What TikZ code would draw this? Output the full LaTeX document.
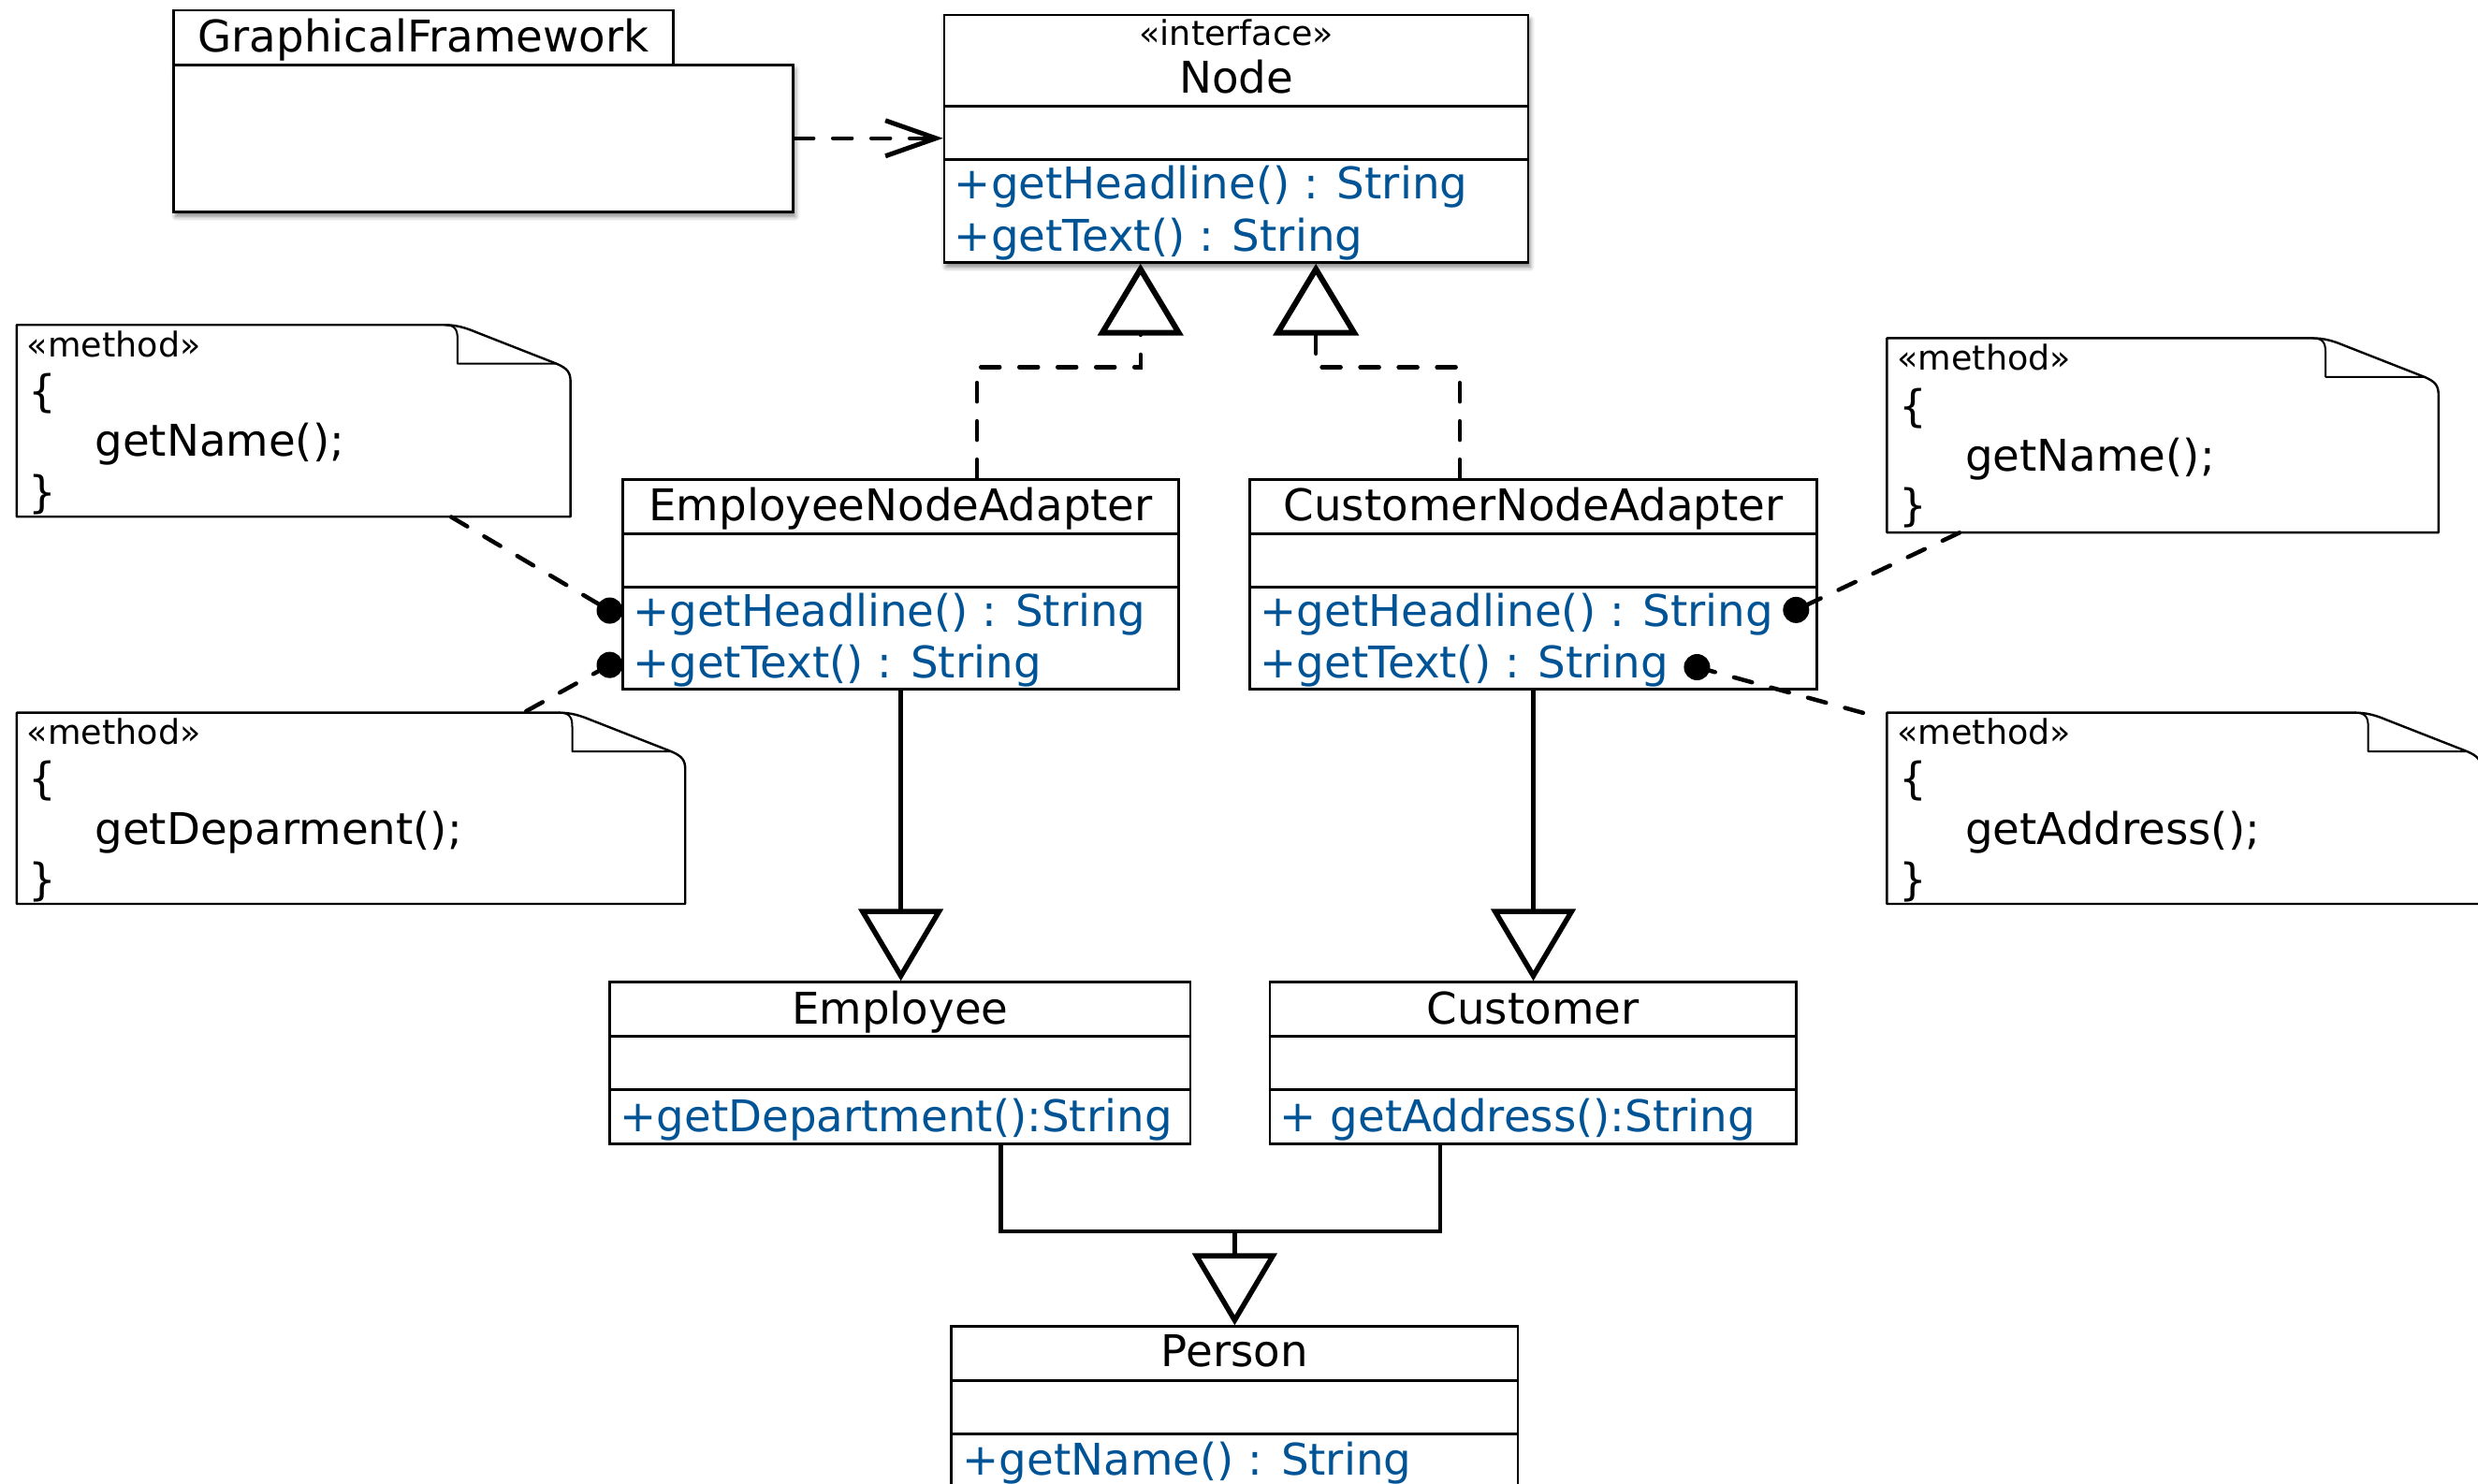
\documentclass[tikz,border=0pt]{standalone}
\usepackage{fontspec}
\setmainfont{DejaVu Sans}
\usetikzlibrary{arrows.meta,fit,calc,shadows.blur}
\definecolor{opblue}{RGB}{0,84,150}

% A UML class: #1 name, #2 left, #3 top, #4 right, #5 first separator,
% #6 second separator, #7 bottom, #8 extra options for the outer frame
\newcommand\umlclass[8]{%
  \node[box,#8,fit={(#2,#3) (#4,#7)}] (#1) {};
  \node[box,fit={(#2,#3) (#4,#5)}] (#1-name) {};
  \node[box,fit={(#2,#5) (#4,#6)}] (#1-attr) {};
  \node[box,fit={(#2,#6) (#4,#7)}] (#1-ops) {};
}

% A note with a folded corner: #1 name, #2 left, #3 top, #4 right, #5 bottom
\newcommand\methodnote[5]{%
  \node[fit={(#2,#3) (#4,#5)}, inner sep=0pt] (#1) {};
  \draw[noteline] (#2,#3) -- ({#4-80},#3)
    .. controls ({#4-72},#3) and ({#4-66},{#3+2}) .. ({#4-60},{#3+4.5})
    -- ({#4-9},{#3+24.5})
    .. controls ({#4-2},{#3+27.5}) and (#4,{#3+30}) .. (#4,{#3+36})
    -- (#4,#5) -- (#2,#5) -- cycle;
  \draw[foldline] ({#4-80},#3)
    .. controls ({#4-73},#3) and ({#4-71.5},{#3+3}) .. ({#4-71.5},{#3+9})
    -- ({#4-71.5},{#3+24.5}) -- ({#4-9},{#3+24.5});
}

\begin{document}
\begin{tikzpicture}[x=1.6888pt,y=-1.6888pt,
  box/.style={draw, line width=2.8pt, inner sep=0pt, fill=white},
  shadowed/.style={blur shadow={shadow xshift=2pt, shadow yshift=-5pt,
      shadow blur radius=5pt, shadow opacity=50}},
  label/.style={font=\fontsize{46.7}{56}\selectfont, inner sep=0pt,
      text height=39pt, text depth=7.8pt},
  stereo/.style={font=\fontsize{36.5}{44}\selectfont, inner sep=0pt,
      text height=31pt, text depth=6.6pt},
  op/.style={label, text=opblue, anchor=west},
  notetext/.style={label, anchor=west},
  notestereo/.style={stereo, anchor=west},
  noteline/.style={line width=2.4pt, line join=round, fill=white},
  foldline/.style={line width=2pt, line join=round},
  dep/.style={line width=4.5pt, line cap=round, dash pattern=on 20pt off 21pt},
  solidline/.style={line width=4.5pt},
  realize/.style={dep, -{Triangle[open, length=77pt, width=91pt, line width=6pt]}},
  gen/.style={solidline, -{Triangle[open, length=77pt, width=90pt, line width=5.5pt]}},
  dot/.style={circle, fill=black, minimum size=28pt, inner sep=0pt},
]
\useasboundingbox (0,0) rectangle (1568,939);
\clip (0,0) rectangle (1568,939);

% ---- GraphicalFramework (package-like box with a tab)
\node[box, shadowed, fit={(110,41) (502,134)}] (gf) {};
\node[box, fit={(110,6.5) (426,41)}] (gf-tab) {};
\node[label] (gf-title) at (268,23.7) {GraphicalFramework};

% ---- Node interface
\umlclass{node}{597.5}{9.5}{967}{67}{101}{166}{shadowed}
\node[stereo] (node-stereo) at (782.3,21.7) {«interface»};
\node[label] (node-title) at (782.3,49.5) {Node};
\node[op] (node-op1) at (603.8,116.5) {+getHeadline() : String};
\node[op] (node-op2) at (603.8,149.5) {+getText() : String};

% ---- Adapters
\umlclass{ena}{394}{303.5}{746}{338}{371.7}{436.2}{}
\node[label] (ena-title) at (570,320) {EmployeeNodeAdapter};
\node[op] (ena-op1) at (400.3,387) {+getHeadline() : String};
\node[op] (ena-op2) at (400.3,420) {+getText() : String};

\umlclass{cna}{791}{303.5}{1149.5}{338}{371.7}{436.2}{}
\node[label] (cna-title) at (970.3,320) {CustomerNodeAdapter};
\node[op] (cna-op1) at (797.3,387) {+getHeadline() : String};
\node[op] (cna-op2) at (797.3,420) {+getText() : String};

% ---- Adaptees
\umlclass{emp}{386}{621.6}{753.2}{656}{689.7}{723.8}{}
\node[label] (emp-title) at (569.6,638.6) {Employee};
\node[op] (emp-op1) at (392.3,707) {+getDepartment():String};

\umlclass{cust}{803.5}{621.6}{1136.7}{656}{689.7}{723.8}{}
\node[label] (cust-title) at (970,638.6) {Customer};
\node[op] (cust-op1) at (809.8,707) {+ getAddress():String};

\umlclass{person}{602}{839.5}{960.5}{873.6}{907.5}{965}{}
\node[label] (person-title) at (781.2,855.8) {Person};
\node[op] (person-op1) at (609,924) {+getName() : String};

% ---- Method notes
\methodnote{n1}{10.6}{205.6}{361}{327}
\node[notestereo] (n1-l1) at (17,218.6) {«method»};
\node[notetext] (n1-l2) at (18,247.8) {\{};
\node[notetext] (n1-l3) at (60,279.5) {getName();};
\node[notetext] (n1-l4) at (18,311.9) {\}};

\methodnote{n2}{10.6}{451}{433.6}{572}
\node[notestereo] (n2-l1) at (17,464) {«method»};
\node[notetext] (n2-l2) at (18,493) {\{};
\node[notetext] (n2-l3) at (60,525) {getDeparment();};
\node[notetext] (n2-l4) at (18,557) {\}};

\methodnote{n3}{1194}{214}{1543}{337}
\node[notestereo] (n3-l1) at (1200.5,227) {«method»};
\node[notetext] (n3-l2) at (1201.5,257.6) {\{};
\node[notetext] (n3-l3) at (1243.5,289) {getName();};
\node[notetext] (n3-l4) at (1201.5,320) {\}};

\methodnote{n4}{1194}{451}{1570}{572}
\node[notestereo] (n4-l1) at (1200.5,464) {«method»};
\node[notetext] (n4-l2) at (1201.5,493) {\{};
\node[notetext] (n4-l3) at (1243.5,525) {getAddress();};
\node[notetext] (n4-l4) at (1201.5,557) {\}};

% ---- Attachment dots
\node[dot] (d1) at (385.8,386.4) {};
\node[dot] (d2) at (385.8,420.8) {};
\node[dot] (d3) at (1136.5,386) {};
\node[dot] (d4) at (1073.8,422.2) {};

% ---- Note attachments
\draw[dep] ($(n1.south west)+(275,0)$) -- (d1.center);
\draw[dep] (d2.center) -- ($(n2.north west)+(321,0)$);
\draw[dep] ($(n3.south west)+(46,0)$) -- (d3.center);
\draw[dep] (d4.center) -- ($(n4.north west)+(-5,3)$);

% ---- Dependency of the framework on Node
\draw[dep, -{Straight Barb[length=54pt, width=38pt, line width=5pt]}]
  (gf.east) -- (gf.east -| node.west);

% ---- Realizations of the Node interface
\draw[realize] ($(ena.north west)+(225,0)$) -- ++(0,-70.3)
  -| ($(node.south west)+(125,0)$);
\draw[realize] ($(cna.north west)+(133.5,0)$) -- ++(0,-70.3)
  -| ($(node.south west)+(236,0)$);

% ---- Adapters extend the adaptees
\draw[gen] (ena.south) -- (ena.south |- emp.north);
\draw[gen] (cna.south) -- (cna.south |- cust.north);

% ---- Employee and Customer extend Person
\draw[gen] ($(emp.south west)+(248,0)$) |- ($(person.north)+(0,-59.3)$)
  -- (person.north);
\draw[solidline] ($(cust.south west)+(108.5,0)$) |- ($(person.north)+(0,-59.3)$);
\end{tikzpicture}
\end{document}
